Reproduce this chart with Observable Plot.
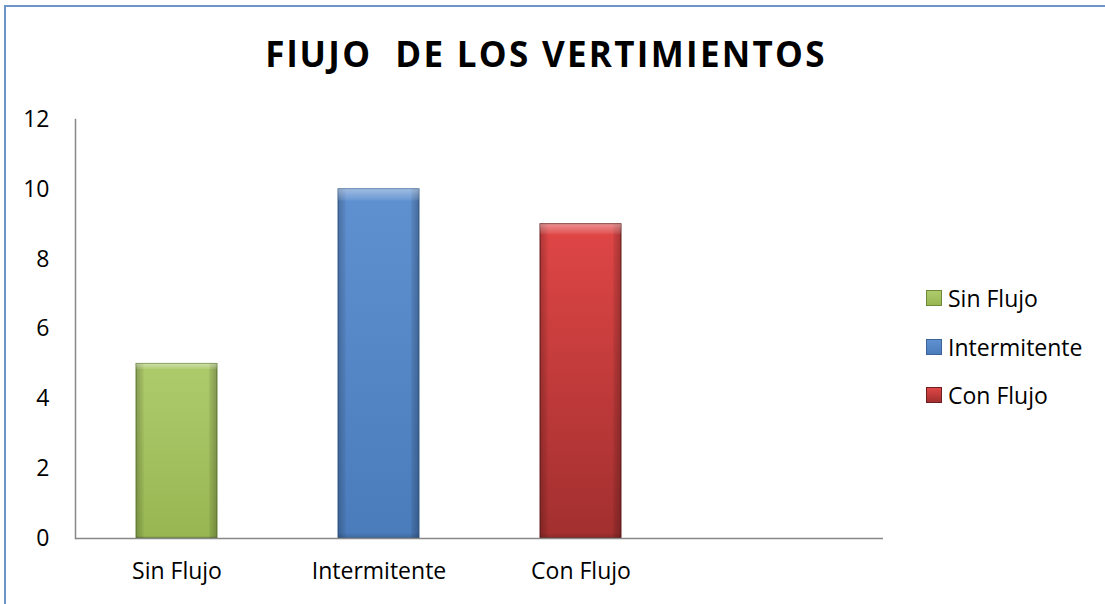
<!DOCTYPE html>
<html>
<head>
<meta charset="utf-8">
<script src="https://cdn.jsdelivr.net/npm/d3@7"></script>
<script src="https://cdn.jsdelivr.net/npm/@observablehq/plot@0.6"></script>
<style>
  html, body { margin: 0; padding: 0; background: #fff; }
  #wrap { position: relative; width: 1105px; height: 604px; overflow: hidden; font-family: "Open Sans", sans-serif; }
  #border { position: absolute; left: 4px; top: 5px; width: 1300px; height: 800px; border: 2px solid #6D95CA; box-sizing: border-box; }
  #title { position: absolute; left: 0; width: 1092px; top: 30px; text-align: center; font-weight: bold; font-size: 35px; letter-spacing: 2.3px; line-height: normal; color: #000; white-space: pre; }
  #legend { position: absolute; left: 926px; top: 274px; font-size: 23px; color: #000; }
  #legend .row { height: 48.5px; display: flex; align-items: center; }
  #legend .sw { width: 16px; height: 16px; margin-right: 6px; box-sizing: border-box; }
  svg { position: absolute; left: 0; top: 0; }
</style>
</head>
<body>
<div id="wrap">
  <div id="border"></div>
  <div id="chart"></div>
  <div id="title"></div>
  <div id="legend"></div>
</div>
<script>
const title = "FlUJO  DE LOS VERTIMIENTOS";
const categories = ["Sin Flujo", "Intermitente", "Con Flujo"];
const values = [5, 10, 9];
const yTicks = [0, 2, 4, 6, 8, 10, 12];
const topColors = ["#AECB6C", "#5F90D0", "#E04646"];
const bottomColors = ["#98B752", "#4A7BBA", "#A22F2F"];
const edgeColors = ["#6E8A38", "#3A6498", "#6E1E1E"];

const data = categories.map((c, i) => ({category: c, value: values[i], grad: `url(#g${i})`, edge: edgeColors[i]}));

const plot = Plot.plot({
  width: 1105,
  height: 604,
  marginLeft: 75,
  marginRight: 222,
  marginTop: 119,
  marginBottom: 66,
  style: {fontFamily: "'Open Sans', sans-serif", fontSize: "23px", color: "#000", background: "transparent"},
  x: {domain: [...categories, " "], paddingInner: 0.6, paddingOuter: 0.3, label: null},
  y: {domain: [0, 12], label: null},
  color: {type: "identity"},
  marks: [
    Plot.barY(data, {x: "category", y: "value", fill: "grad", stroke: "edge", strokeWidth: 1}),
    Plot.barY(data, {x: "category", y: "value", fill: "url(#side)"}),
    Plot.barY(data, {x: "category", y: "value", fill: "url(#topHi)"}),
    Plot.ruleY([0], {stroke: "#888888", strokeWidth: 1.5}),
    Plot.frame({anchor: "left", stroke: "#888888", strokeWidth: 1.5}),
    Plot.axisY({ticks: yTicks, tickSize: 0, tickPadding: 26, label: null}),
    Plot.axisX({tickSize: 0, tickPadding: 24, label: null})
  ]
});

// gradients for bar fills
const ns = "http://www.w3.org/2000/svg";
const defs = document.createElementNS(ns, "defs");
function grad(id, horiz, stops) {
  const lg = document.createElementNS(ns, "linearGradient");
  lg.setAttribute("id", id);
  lg.setAttribute("x1", "0"); lg.setAttribute("y1", "0");
  lg.setAttribute("x2", horiz ? "1" : "0"); lg.setAttribute("y2", horiz ? "0" : "1");
  stops.forEach(([o, c, op]) => {
    const s = document.createElementNS(ns, "stop");
    s.setAttribute("offset", o);
    s.setAttribute("stop-color", c);
    s.setAttribute("stop-opacity", op == null ? 1 : op);
    lg.appendChild(s);
  });
  defs.appendChild(lg);
}
topColors.forEach((tc, i) => grad(`g${i}`, false, [[0, tc], [1, bottomColors[i]]]));
grad("side", true, [[0, "#000", 0.22], [0.09, "#000", 0.05], [0.1, "#000", 0], [0.9, "#000", 0], [0.91, "#000", 0.08], [1, "#000", 0.25]]);
grad("topHi", false, [[0, "#fff", 0.4], [0.03, "#fff", 0.1], [0.035, "#fff", 0], [0.985, "#000", 0], [1, "#000", 0.15]]);
plot.insertBefore(defs, plot.firstChild);
document.getElementById("chart").appendChild(plot);
document.getElementById("title").textContent = title;

const legend = document.getElementById("legend");
categories.forEach((c, i) => {
  const row = document.createElement("div");
  row.className = "row";
  const sw = document.createElement("div");
  sw.className = "sw";
  sw.style.background = `linear-gradient(${topColors[i]}, ${bottomColors[i]})`;
  sw.style.border = `1px solid ${edgeColors[i]}`;
  const t = document.createElement("span");
  t.textContent = c;
  row.appendChild(sw);
  row.appendChild(t);
  legend.appendChild(row);
});
</script>
</body>
</html>
